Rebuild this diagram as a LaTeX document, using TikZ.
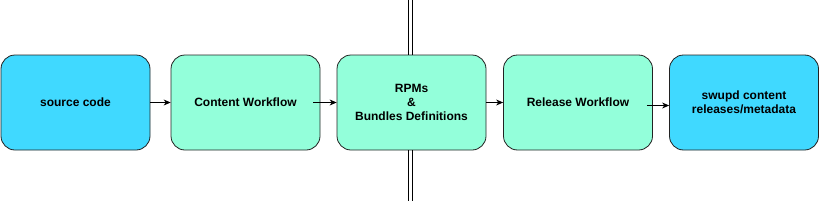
\documentclass[tikz,border=0pt]{standalone}
\usepackage{fontspec}
\setmainfont{Liberation Sans}
\usetikzlibrary{arrows.meta,positioning}
\definecolor{srcblue}{HTML}{40D9FF}
\definecolor{flowgreen}{HTML}{93FFDA}
\definecolor{edgegray}{HTML}{222222}
\tikzset{
  x=1pt,y=-1pt,
  stagebox/.style={draw=edgegray,thick,rounded corners=14pt,minimum width=149pt,minimum height=95pt,
    align=center,inner sep=2pt,font=\fontsize{12}{14.2}\selectfont\bfseries},
  srcnode/.style={stagebox,fill=srcblue},
  flownode/.style={stagebox,fill=flowgreen},
  flowedge/.style={-{Stealth[length=7pt,width=6pt]},thick,black},
  splitline/.style={semithick,black},
}
\begin{document}
\begin{tikzpicture}
  \useasboundingbox (0,0) rectangle (821,201);
  \node[srcnode] (nSrc) at (75.5,102.5) {source code};
  \node[flownode] (nContent) at (245.5,102.5) {Content Workflow};
  \node[flownode] (nRpm) at (411.5,102.5) {RPMs\\\&\\Bundles Definitions};
  \node[flownode] (nRelease) at (578,102.5) {Release Workflow};
  \node[srcnode] (nSwupd) at (744,102.5) {swupd content\\releases/metadata};
  \coordinate (cTopA) at (408,0);
  \coordinate (cTopB) at (412,0);
  \coordinate (cBotA) at (408,201);
  \coordinate (cBotB) at (412,201);
  \draw[flowedge] (nSrc) -- (nContent);
  \draw[flowedge] ([xshift=-7pt]nContent.east) -- (nRpm.west);
  \draw[flowedge] (nRpm) -- (nRelease);
  \draw[flowedge] ([xshift=-6pt,yshift=-3pt]nRelease.east) -- ([yshift=-3pt]nSwupd.west);
  \draw[splitline] (cTopA) -- (nRpm.north -| cTopA);
  \draw[splitline] (cTopB) -- (nRpm.north -| cTopB);
  \draw[splitline] (nRpm.south -| cBotA) -- (cBotA);
  \draw[splitline] (nRpm.south -| cBotB) -- (cBotB);
\end{tikzpicture}
\end{document}
